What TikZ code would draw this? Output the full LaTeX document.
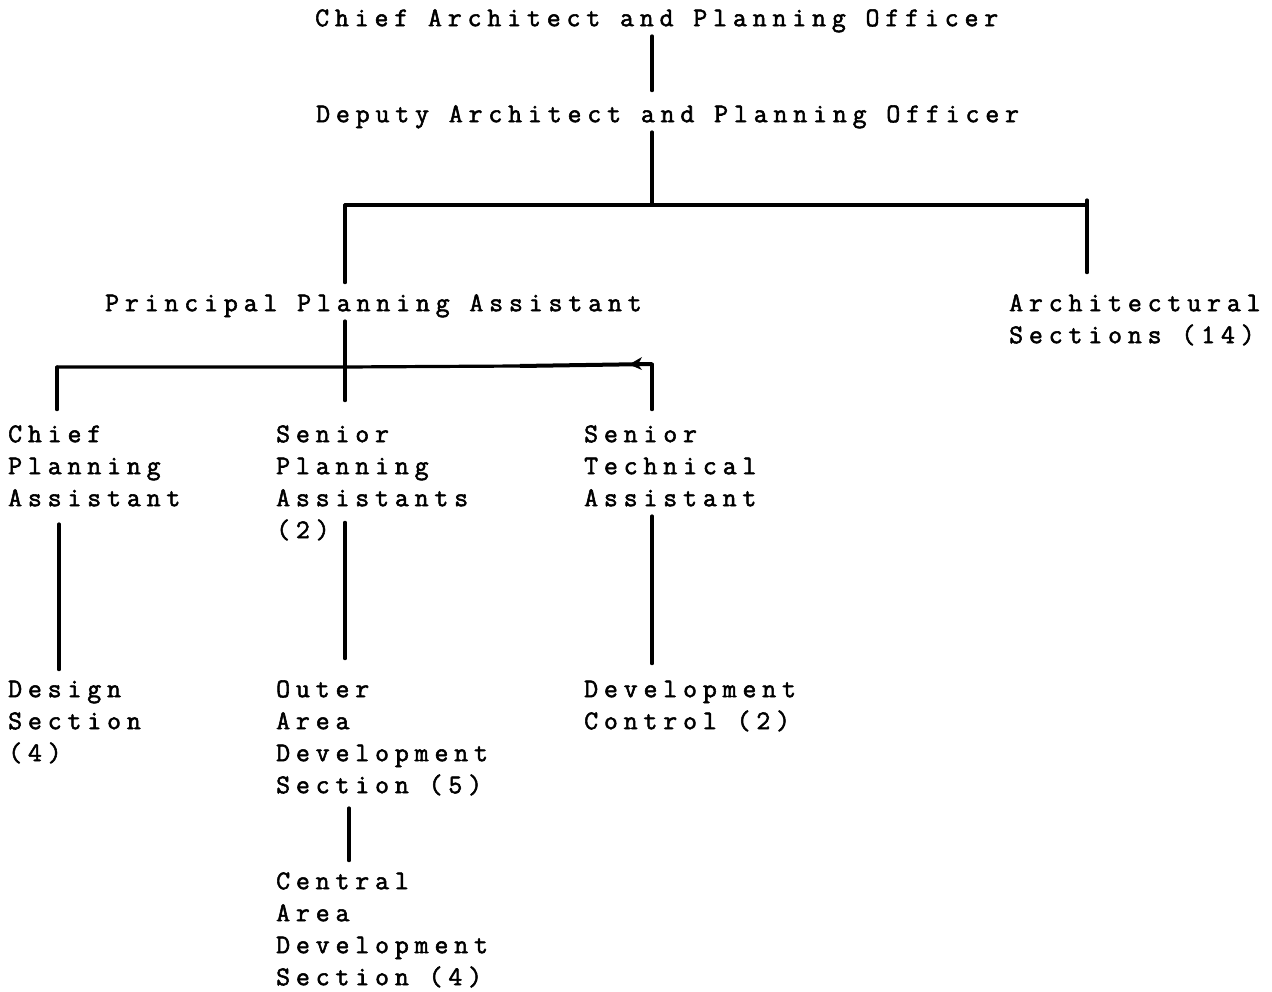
\documentclass[tikz,border=0pt]{standalone}
\usepackage{fontspec}
\newfontfamily\tw{Latin Modern Mono}[LetterSpace=21.8,FakeBold=2]
\usetikzlibrary{arrows.meta,calc}
\begin{document}
\begin{tikzpicture}[x=1pt,y=-1pt,
  lbl/.style={anchor=north west,inner sep=0pt,align=left,font=\fontsize{27}{32}\tw},
  conn/.style={line width=3.2pt,line cap=round}]
\useasboundingbox (0,0) rectangle (1272,992);
% column coordinates
\coordinate (xm) at (652,0);
\coordinate (xl) at (345,0);
\coordinate (xr) at (1087,0);
\coordinate (x1) at (59,0);
\coordinate (x2) at (349,0);
% junctions
\coordinate (b1) at (345,205);
\coordinate (b2) at (1087,205);
\coordinate (b3) at (652,205);
\coordinate (c1) at (57,367);
\coordinate (c3) at (652,364);
\coordinate (c2) at (345,367);
\coordinate (ct) at (520,366);
% nodes
\node[lbl] (ca) at (315,3.6) {\strut Chief Architect and Planning Officer\strut};
\node[lbl] (dp) at (316,99.6) {\strut Deputy Architect and Planning Officer\strut};
\node[lbl] (pp) at (105,288.6) {\strut Principal Planning Assistant\strut};
\node[lbl] (ar) at (1009,288.6) {\strut Architectural\\Sections (14)\strut};
\node[lbl] (cp) at (8,419.6) {\strut Chief\\Planning\\Assistant\strut};
\node[lbl] (sp) at (276,419.6) {\strut Senior\\Planning\\Assistants\\(2)\strut};
\node[lbl] (st) at (584,419.6) {\strut Senior\\Technical\\Assistant\strut};
\node[lbl] (ds) at (8,674.6) {\strut Design\\Section\\(4)\strut};
\node[lbl] (op) at (276,674.6) {\strut Outer\\Area\\Development\\Section (5)\strut};
\node[lbl] (dc) at (584,674.6) {\strut Development\\Control (2)\strut};
\node[lbl] (ce) at (276,866.6) {\strut Central\\Area\\Development\\Section (4)\strut};
% connectors
\draw[conn,shorten >=9pt] (ca.south -| xm) -- (dp.north -| xm);
\draw[conn] (dp.south -| xm) -- (b3);
\draw[conn] (b1) -- (b2);
\draw[conn,shorten >=6pt] (b1) -- (pp.north -| xl);
\draw[conn,shorten >=16pt] ([yshift=5pt]b2) -- (ar.north -| xr);
\draw[conn,shorten >=19pt] (pp.south -| xl) -- (sp.north -| xl);
\draw[conn] (c1) -- (c2) -- (ct);
\draw[line width=4pt] (ct) -- (c3);
\fill (629,364.5) -- (642,357) -- (638,364.5) -- (642,370) -- cycle;
\draw[conn,shorten >=10pt] (c1) -- (cp.north -| c1);
\draw[conn,shorten >=10pt] (c3) -- (st.north -| c3);
\draw[conn,shorten <=8pt,shorten >=5pt] (cp.south -| x1) -- (ds.north -| x1);
\draw[conn,shorten >=16pt] ($(sp.south -| xl)+(0,-25.6)$) -- (op.north -| xl);
\draw[conn,shorten >=11pt] (st.south -| xm) -- (dc.north -| xm);
\draw[conn,shorten <=5pt,shorten >=6pt] (op.south -| x2) -- (ce.north -| x2);
\end{tikzpicture}
\end{document}
